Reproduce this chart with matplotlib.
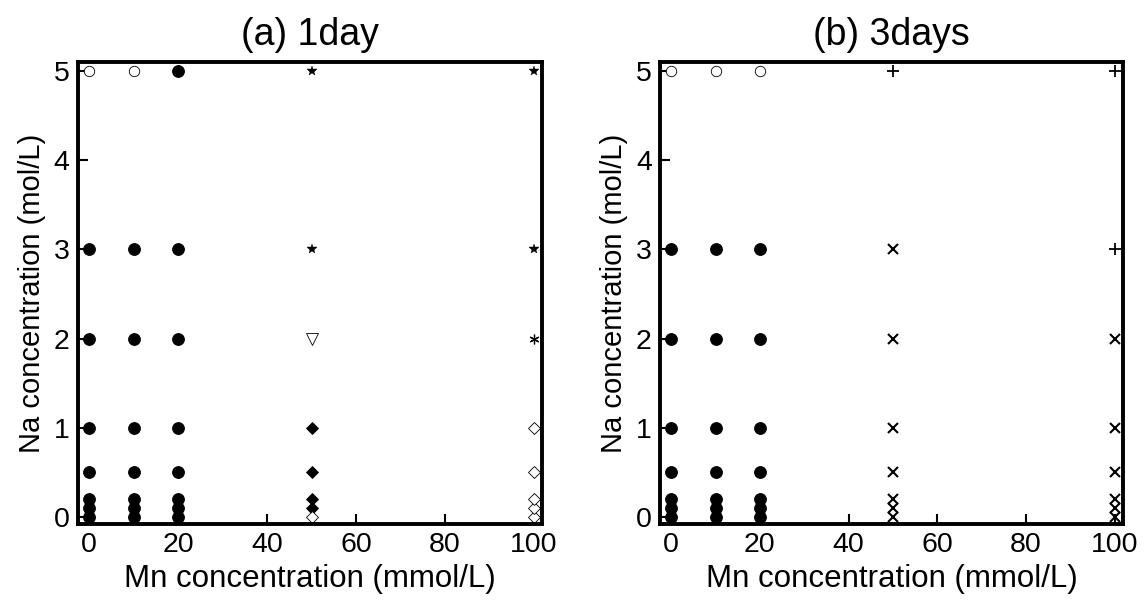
import matplotlib
matplotlib.use("Agg")
import matplotlib.pyplot as plt

plt.rcParams["font.family"] = ["Liberation Sans", "DejaVu Sans"]

# Data: Mn levels (columns) x Na levels (rows)
mn_levels = [0, 10, 20, 50, 100]
na_levels = [0, 0.1, 0.2, 0.5, 1, 2, 3, 5]

# state code at each (Mn, Na) point, one list per Mn level, ordered as na_levels
day1_states = [
    ["fc", "fc", "fc", "fc", "fc", "fc", "fc", "oc"],
    ["fc", "fc", "fc", "fc", "fc", "fc", "fc", "oc"],
    ["fc", "fc", "fc", "fc", "fc", "fc", "fc", "fc"],
    ["od", "fd", "fd", "fd", "fd", "tri", "star", "star"],
    ["od", "od", "od", "od", "od", "ast", "star", "star"],
]
day3_states = [
    ["fc", "fc", "fc", "fc", "fc", "fc", "fc", "oc"],
    ["fc", "fc", "fc", "fc", "fc", "fc", "fc", "oc"],
    ["fc", "fc", "fc", "fc", "fc", "fc", "fc", "oc"],
    ["x", "x", "x", "x", "x", "x", "x", "plus"],
    ["x", "x", "x", "x", "x", "x", "plus", "plus"],
]

titles = ["(a) 1day", "(b) 3days"]
x_ticks = [0, 20, 40, 60, 80, 100]
y_ticks = [0, 1, 2, 3, 4, 5]

# marker styles per state code
styles = {
    "fc": dict(marker="o", ms=8.4, mfc="black", mec="black", mew=0.8),
    "oc": dict(marker="o", ms=7.5, mfc="white", mec="black", mew=0.6),
    "fd": dict(marker="D", ms=5.8, mfc="black", mec="black", mew=0.6),
    "od": dict(marker="D", ms=6.2, mfc="white", mec="black", mew=0.6),
    "star": dict(marker="*", ms=7.5, mfc="black", mec="black", mew=0.3),
    "tri": dict(marker="v", ms=8.5, mfc="white", mec="black", mew=0.6),
    "ast": dict(marker=(6, 2, 0), ms=7, mfc="black", mec="black", mew=0.9),
    "x": dict(marker="x", ms=6.5, mfc="black", mec="black", mew=1.5),
    "plus": dict(marker="+", ms=8, mfc="black", mec="black", mew=1.3),
}


def draw_panel(ax, states, title):
    for code, st in styles.items():
        xs, ys = [], []
        for mn, col in zip(mn_levels, states):
            for na, c in zip(na_levels, col):
                if c == code:
                    xs.append(mn)
                    ys.append(na)
        if xs:
            ax.plot(xs, ys, ls="none", zorder=3, clip_on=False, **st)
    ax.set_xlim(-2.5, 101.8)
    ax.set_ylim(-0.08, 5.1)
    ax.set_xticks(x_ticks)
    ax.set_yticks(y_ticks)
    ax.tick_params(direction="in", length=7, width=1.5, labelsize=20.5,
                   top=False, right=False, pad=6)
    for sp in ax.spines.values():
        sp.set_linewidth(2.8)
        sp.set_zorder(4)
    ax.set_xlabel("Mn concentration (mmol/L)", fontsize=22.5, labelpad=4)
    ax.set_ylabel("Na concentration (mol/L)", fontsize=21, labelpad=6)
    ax.set_title(title, fontsize=27, pad=12)


fig = plt.figure(figsize=(11.48, 6.08), dpi=100)
ax1 = fig.add_axes([0.068, 0.138, 0.404, 0.760])
ax2 = fig.add_axes([0.575, 0.138, 0.403, 0.760])
draw_panel(ax1, day1_states, titles[0])
draw_panel(ax2, day3_states, titles[1])

fig.savefig("out.png", dpi=100)
